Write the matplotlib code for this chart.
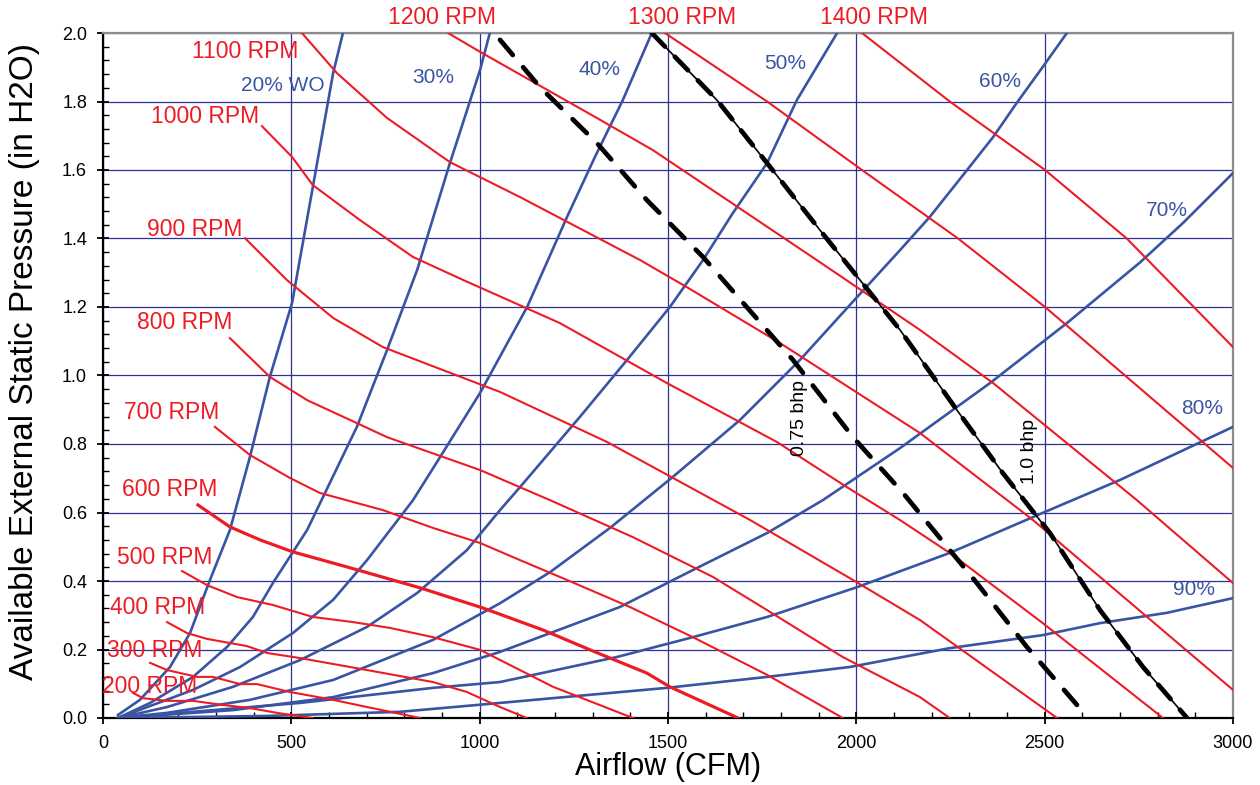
import matplotlib

matplotlib.use("Agg")
import matplotlib.pyplot as plt
from matplotlib.ticker import MultipleLocator, FormatStrFormatter

plt.rcParams["font.family"] = ["Liberation Sans", "DejaVu Sans"]

RED = "#ED1C24"
BLUE = "#3A54A4"
GRID = "#2E3192"

# fan speed curves, points are (airflow cfm, static pressure in H2O)
rpm_200 = [(80, 0.073), (106, 0.058), (170, 0.050), (239, 0.050), (319, 0.038),
           (390, 0.029), (462, 0.015), (557, 0.0)]
rpm_300 = [(125, 0.161), (170, 0.140), (250, 0.120), (292, 0.120), (364, 0.099),
           (409, 0.099), (496, 0.076), (611, 0.053), (701, 0.032), (842, 0.0)]
rpm_400 = [(170, 0.280), (223, 0.248), (276, 0.231), (382, 0.210), (435, 0.190),
           (523, 0.175), (701, 0.140), (876, 0.105), (966, 0.076), (1054, 0.032),
           (1125, 0.0)]
rpm_500 = [(210, 0.429), (276, 0.388), (356, 0.353), (451, 0.330), (557, 0.295),
           (664, 0.280), (762, 0.263), (876, 0.236), (1001, 0.199), (1080, 0.155),
           (1195, 0.091), (1407, 0.0)]
rpm_600 = [(252, 0.622), (337, 0.558), (417, 0.520), (504, 0.485), (648, 0.441),
           (842, 0.380), (1009, 0.321), (1168, 0.257), (1293, 0.199), (1444, 0.131),
           (1505, 0.091), (1686, 0.0)]
rpm_700 = [(297, 0.850), (390, 0.768), (496, 0.701), (576, 0.657), (743, 0.607),
           (876, 0.555), (1001, 0.511), (1107, 0.461), (1232, 0.403), (1399, 0.324),
           (1566, 0.236), (1763, 0.126), (1964, 0.0)]
rpm_800 = [(337, 1.109), (443, 0.996), (542, 0.928), (674, 0.861), (754, 0.820),
           (1001, 0.724), (1187, 0.636), (1407, 0.528), (1619, 0.412), (1763, 0.315),
           (1964, 0.178), (2169, 0.061), (2248, 0.0)]
rpm_900 = [(377, 1.401), (488, 1.279), (611, 1.168), (743, 1.083), (1054, 0.952),
           (1338, 0.806), (1718, 0.578), (1991, 0.403), (2169, 0.286), (2533, 0.0)]
rpm_1000 = [(422, 1.728), (502, 1.638), (557, 1.556), (682, 1.454), (823, 1.346),
            (956, 1.279), (1213, 1.153), (1497, 0.978), (1789, 0.806), (1975, 0.674),
            (2116, 0.578), (2256, 0.476), (2495, 0.277), (2814, 0.0)]
rpm_1100 = [(528, 2.0), (621, 1.883), (754, 1.752), (921, 1.623), (1107, 1.521),
            (1426, 1.337), (1550, 1.258), (1797, 1.095), (2169, 0.832), (2469, 0.578),
            (3000, 0.082)]
rpm_1200 = [(916, 2.0), (1001, 1.945), (1311, 1.752), (1460, 1.658), (1895, 1.337),
            (2169, 1.133), (2363, 0.978), (2745, 0.636), (3000, 0.394)]
rpm_1300 = [(1492, 2.0), (1763, 1.8), (2015, 1.6), (2270, 1.4), (2501, 1.2),
            (3000, 0.73)]
rpm_1400 = [(2015, 2.0), (2248, 1.8), (2501, 1.6), (2718, 1.4), (3000, 1.083)]

rpm_curves = [rpm_200, rpm_300, rpm_400, rpm_500, rpm_600, rpm_700, rpm_800,
              rpm_900, rpm_1000, rpm_1100, rpm_1200, rpm_1300, rpm_1400]
rpm_names = ["200 RPM", "300 RPM", "400 RPM", "500 RPM", "600 RPM", "700 RPM",
             "800 RPM", "900 RPM", "1000 RPM", "1100 RPM", "1200 RPM", "1300 RPM",
             "1400 RPM"]

# system curves at damper % wide open
wo_20 = [(40, 0.009), (98, 0.053), (178, 0.149), (231, 0.248), (284, 0.403),
         (337, 0.549), (390, 0.762), (443, 0.996), (502, 1.212), (557, 1.550),
         (611, 1.883), (637, 2.0)]
wo_30 = [(40, 0.0), (125, 0.044), (239, 0.120), (329, 0.207), (398, 0.295),
         (451, 0.394), (542, 0.549), (674, 0.850), (754, 1.074), (834, 1.308),
         (921, 1.620), (1001, 1.892), (1027, 2.0)]
wo_40 = [(40, 0.0), (239, 0.082), (364, 0.149), (504, 0.248), (611, 0.345),
         (701, 0.461), (823, 0.636), (895, 0.762), (1001, 0.949), (1126, 1.200),
         (1232, 1.463), (1306, 1.638), (1380, 1.804), (1457, 2.0)]
wo_50 = [(40, 0.0), (170, 0.032), (345, 0.091), (523, 0.169), (701, 0.266),
         (834, 0.365), (966, 0.490), (1054, 0.607), (1107, 0.674), (1266, 0.879),
         (1391, 1.045), (1505, 1.200), (1593, 1.337), (1672, 1.474), (1763, 1.620),
         (1842, 1.804), (1949, 2.0)]
wo_60 = [(40, 0.0), (170, 0.015), (390, 0.053), (611, 0.111), (876, 0.228),
         (1054, 0.335), (1187, 0.426), (1346, 0.555), (1513, 0.704), (1691, 0.870),
         (1850, 1.045), (2002, 1.229), (2116, 1.366), (2195, 1.463), (2294, 1.600),
         (2363, 1.696), (2426, 1.796), (2495, 1.901), (2559, 2.0)]
wo_70 = [(40, 0.0), (345, 0.023), (611, 0.061), (876, 0.131), (1054, 0.193),
         (1372, 0.324), (1566, 0.432), (1763, 0.540), (1911, 0.636), (2116, 0.788),
         (2355, 0.978), (2559, 1.153), (2753, 1.330), (2867, 1.445), (3000, 1.591)]
wo_80 = [(40, 0.0), (523, 0.044), (876, 0.088), (1054, 0.105), (1364, 0.178),
         (1566, 0.236), (1763, 0.295), (2002, 0.382), (2248, 0.482), (2495, 0.599),
         (2700, 0.695), (3000, 0.850)]
wo_90 = [(40, 0.0), (435, 0.006), (788, 0.018), (1054, 0.044), (1497, 0.088),
         (1763, 0.120), (1983, 0.149), (2248, 0.204), (2495, 0.242), (2647, 0.277),
         (2824, 0.307), (3000, 0.350)]

wo_curves = [wo_20, wo_30, wo_40, wo_50, wo_60, wo_70, wo_80, wo_90]
wo_names = ["20% WO", "30%", "40%", "50%", "60%", "70%", "80%", "90%"]

# brake horsepower limits
bhp_075 = [(1054, 1.98), (1160, 1.842), (1311, 1.679), (1444, 1.512), (1593, 1.346),
           (1832, 1.045), (1991, 0.820), (2124, 0.657), (2320, 0.394), (2453, 0.207),
           (2586, 0.038)]
bhp_100 = [(1457, 2.0), (1630, 1.804), (1771, 1.609), (1903, 1.425), (2116, 1.133),
           (2267, 0.899), (2389, 0.715), (2514, 0.540), (2647, 0.315), (2761, 0.149),
           (2878, 0.0)]

# label anchors (cfm, in H2O)
rpm_label_pos = [(125, 0.093), (138, 0.196), (146, 0.324), (165, 0.470), (178, 0.666),
                 (183, 0.893), (218, 1.156), (244, 1.425), (271, 1.755), (377, 1.945),
                 (900, 2.045), (1537, 2.045), (2046, 2.045)]
wo_label_pos = [(478, 1.848), (876, 1.869), (1319, 1.892), (1810, 1.912), (2381, 1.857),
                (2824, 1.483), (2917, 0.905), (2896, 0.374)]


def xy(points):
    return [p[0] for p in points], [p[1] for p in points]


def main():
    fig = plt.figure(figsize=(12.6, 7.85), dpi=100)
    ax = fig.add_axes([103 / 1260, 1 - 718 / 785, 1130 / 1260, 685 / 785])

    for curve in wo_curves:
        x, y = xy(curve)
        ax.plot(x, y, color=BLUE, lw=1.9, zorder=3)
    for name, curve in zip(rpm_names, rpm_curves):
        x, y = xy(curve)
        ax.plot(x, y, color=RED, lw=2.3 if name == "600 RPM" else 1.5, zorder=4)

    x, y = xy(bhp_075)
    ax.plot(x, y, color="black", lw=3.4, linestyle=(0, (4.2, 3.4)),
            dash_capstyle="round", zorder=5)
    # 1.0 bhp: thick dashes joined by a thin line
    x, y = xy(bhp_100)
    ax.plot(x, y, color="black", lw=1.2, zorder=5)
    ax.plot(x, y, color="black", lw=3.4, linestyle=(0, (4.0, 3.0)),
            dash_capstyle="round", zorder=5)

    for name, (px, py) in zip(rpm_names, rpm_label_pos):
        ax.text(px, py, name, color=RED, fontsize=16.5, ha="center", va="center",
                clip_on=False, zorder=6)
    for name, (px, py) in zip(wo_names, wo_label_pos):
        ax.text(px, py, name, color=BLUE, fontsize=15, ha="center", va="center",
                zorder=6)
    ax.text(1850, 0.876, "0.75 bhp", rotation=90, fontsize=14, ha="center",
            va="center", zorder=6)
    ax.text(2461, 0.777, "1.0 bhp", rotation=90, fontsize=14, ha="center",
            va="center", zorder=6)

    ax.set_xlim(0, 3000)
    ax.set_ylim(0, 2.0)
    ax.xaxis.set_major_locator(MultipleLocator(500))
    ax.xaxis.set_minor_locator(MultipleLocator(100))
    ax.yaxis.set_major_locator(MultipleLocator(0.2))
    ax.yaxis.set_minor_locator(MultipleLocator(0.04))
    ax.yaxis.set_major_formatter(FormatStrFormatter("%.1f"))
    ax.tick_params(which="major", direction="inout", length=9, width=1.3,
                   labelsize=13)
    ax.tick_params(axis="x", which="major", pad=8)
    ax.tick_params(axis="y", which="major", pad=7)
    ax.tick_params(which="minor", direction="in", length=4, width=1.0)
    ax.grid(True, which="major", color=GRID, lw=0.9, zorder=1)
    ax.set_axisbelow(True)

    for side in ["left", "bottom"]:
        ax.spines[side].set_linewidth(1.6)
        ax.spines[side].set_color("black")
    for side in ["top", "right"]:
        ax.spines[side].set_linewidth(1.6)
        ax.spines[side].set_color("#8C8C8C")

    ax.set_xlabel("Airflow (CFM)", fontsize=22, labelpad=0)
    fig.text(25 / 1260, 1 - 362 / 785, "Available External Static Pressure (in H2O)",
             rotation=90, fontsize=24, ha="center", va="center")

    fig.savefig("out.png", dpi=100)


if __name__ == "__main__":
    main()
